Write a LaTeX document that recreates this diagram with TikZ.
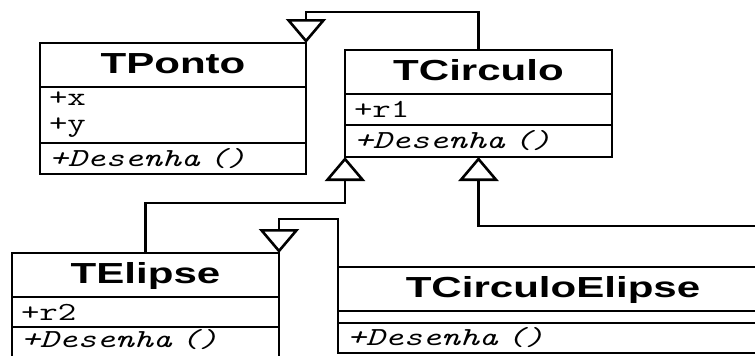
\documentclass[tikz,border=0pt]{standalone}
\usepackage{fontspec}
\newfontfamily\classfont[FakeStretch=1.45]{Liberation Sans}
\newfontfamily\memberfont[FakeStretch=1.38]{Latin Modern Mono}
\usetikzlibrary{arrows.meta,positioning}

\begin{document}
\begin{tikzpicture}[
    x=1pt, y=-1pt,
    line width=2.6pt,
    cls/.style={rectangle, draw, inner sep=0pt, outer sep=0pt, minimum height=44pt, text height=20pt, text depth=3pt, font=\classfont\bfseries\fontsize{29}{29}\selectfont},
    sec/.style={rectangle, draw, inner xsep=9pt, inner ysep=1pt, outer sep=0pt, align=left, font=\memberfont\fontsize{26}{26}\selectfont},
    inh/.style={-{Triangle[open, length=24pt, width=40pt]}, line width=2.6pt}
]
    \useasboundingbox (0,0) rectangle (755,356);
    \clip (0,0) rectangle (755,356);

    % classes: name, attributes, operations
    \node [cls, minimum width=266pt, anchor=north west] (ponto) at (40,43) {TPonto};
    \node [sec, text width=248pt, minimum height=56pt, below=0pt of ponto] (ponto-at) {+x\\+y};
    \node [sec, text width=248pt, minimum height=31pt, below=0pt of ponto-at] (ponto-op) {\itshape +Desenha ()};

    \node [cls, minimum width=267pt, anchor=north west] (circulo) at (345,50) {TCirculo};
    \node [sec, text width=249pt, minimum height=31pt, below=0pt of circulo] (circulo-at) {+r1};
    \node [sec, text width=249pt, minimum height=32pt, below=0pt of circulo-at] (circulo-op) {\itshape +Desenha ()};

    \node [cls, minimum width=267pt, anchor=north west] (elipse) at (12,253) {TElipse};
    \node [sec, text width=249pt, minimum height=30pt, below=0pt of elipse] (elipse-at) {+r2};
    \node [sec, text width=249pt, minimum height=34pt, text depth=11pt, below=0pt of elipse-at] (elipse-op) {\itshape +Desenha ()};

    \node [cls, minimum width=430pt, anchor=north west] (cirel) at (338,267) {TCirculoElipse};
    \node [sec, text width=412pt, minimum height=12pt, below=0pt of cirel] (cirel-at) {};
    \node [sec, text width=412pt, minimum height=30pt, below=0pt of cirel-at] (cirel-op) {\itshape +Desenha ()};

    % generalizations
    \draw [inh] (circulo.north) |- ([yshift=31pt]ponto.north east) -- (ponto.north east);
    \draw [inh] (elipse.north) |- ([yshift=-46pt]circulo-op.south west) -- (circulo-op.south west);
    \draw [inh] (cirel.north east) |- ([yshift=-69pt]circulo-op.south) -- (circulo-op.south);
    \draw [inh] (cirel.north west) |- ([yshift=34pt]elipse.north east) -- (elipse.north east);
\end{tikzpicture}
\end{document}
